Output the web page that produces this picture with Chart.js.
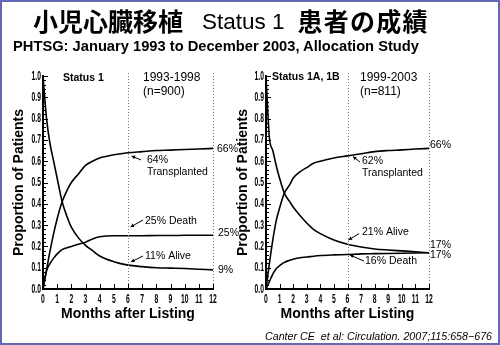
<!DOCTYPE html>
<html><head><meta charset="utf-8">
<script src="https://cdn.jsdelivr.net/npm/chart.js@4.4.0/dist/chart.umd.min.js"></script>
<style>
html,body{margin:0;padding:0;background:#fff;}
#wrap{position:relative;width:500px;height:345px;overflow:hidden;background:#fff;}
canvas{position:absolute;left:0;top:0;}
#frame{position:absolute;left:0;top:0;width:500px;height:345px;box-sizing:border-box;border:2px solid #6466b6;pointer-events:none;}
.t{position:absolute;white-space:nowrap;color:#000;line-height:1;}
#title{left:33px;top:8px;font-family:'Noto Sans CJK JP',sans-serif;font-size:25px;font-weight:bold;}
#title .s{margin-left:19px;font-family:'Liberation Sans',Arial,sans-serif;font-weight:normal;font-size:22.5px;position:relative;top:-2px;}
#title .p{margin-left:13px;letter-spacing:1.2px;}
#sub{left:13px;top:39px;font-family:'Liberation Sans',Arial,sans-serif;font-weight:bold;font-size:14.7px;}
#cite{left:265px;top:331px;font-family:'Liberation Sans',Arial,sans-serif;font-style:italic;font-size:10.7px;}
</style></head>
<body>
<div id="wrap">
<canvas id="c1" width="500" height="345"></canvas>
<canvas id="c2" width="500" height="345"></canvas>
<div class="t" id="title">小児心臓移植<span class="s">Status 1</span><span class="p">患者の成績</span></div>
<div class="t" id="sub">PHTSG: January 1993 to December 2003, Allocation Study</div>
<div class="t" id="cite">Canter CE&nbsp; et al: Circulation. 2007;115:658−676</div>
<div id="frame"></div>
</div>
<script>
// ---- data ----
const months = [0, 0.25, 0.5, 0.75, 1, 1.35, 1.75, 2, 2.5, 3, 3.5, 4, 5, 6, 7, 8, 9, 10, 11, 12];
const xTickLabels = ['0','1','2','3','4','5','6','7','8','9','10','11','12'];
const yTickLabels = ['0.0','0.1','0.2','0.3','0.4','0.5','0.6','0.7','0.8','0.9','1.0'];

// Left panel: 1993-1998 (n=900)
const leftAlive        = [1.0, 0.80, 0.68, 0.60, 0.52, 0.41, 0.33, 0.29, 0.24, 0.205, 0.18, 0.155, 0.128, 0.112, 0.105, 0.10, 0.098, 0.096, 0.093, 0.09];
const leftTransplanted = [0, 0.09, 0.18, 0.26, 0.33, 0.41, 0.47, 0.50, 0.54, 0.58, 0.60, 0.615, 0.63, 0.64, 0.645, 0.65, 0.652, 0.655, 0.657, 0.66];
const leftDeath        = [0, 0.085, 0.12, 0.145, 0.165, 0.185, 0.195, 0.20, 0.21, 0.22, 0.235, 0.245, 0.25, 0.25, 0.25, 0.251, 0.251, 0.252, 0.252, 0.252];

// Right panel: 1999-2003 (n=811)
const rightAlive        = [1.0, 0.71, 0.65, 0.58, 0.52, 0.45, 0.41, 0.385, 0.345, 0.31, 0.28, 0.26, 0.23, 0.21, 0.197, 0.188, 0.183, 0.179, 0.175, 0.17];
const rightTransplanted = [0, 0.12, 0.23, 0.32, 0.38, 0.45, 0.49, 0.52, 0.55, 0.57, 0.59, 0.60, 0.615, 0.625, 0.635, 0.645, 0.65, 0.653, 0.657, 0.66];
const rightDeath        = [0, 0.035, 0.07, 0.095, 0.11, 0.125, 0.135, 0.14, 0.147, 0.15, 0.154, 0.157, 0.16, 0.162, 0.165, 0.166, 0.167, 0.168, 0.169, 0.17];

// ---- annotations (data units) ----
const leftNotes = [
  {text:'Status 1', x:1.41, y:0.99, bold:true},
  {text:'1993-1998', x:7.06, y:0.993, size:12},
  {text:'(n=900)', x:7.06, y:0.925, size:12},
  {text:'66%', x:12.28, y:0.657},
  {text:'64%', x:7.34, y:0.606},
  {text:'Transplanted', x:7.34, y:0.549},
  {text:'25% Death', x:7.2, y:0.319},
  {text:'25%', x:12.35, y:0.263},
  {text:'11% Alive', x:7.2, y:0.155},
  {text:'9%', x:12.35, y:0.089}
];
const leftArrows = [
  {from:[6.92,0.606], to:[6.25,0.624]},
  {from:[7.06,0.324], to:[6.18,0.291]},
  {from:[7.06,0.155], to:[6.21,0.127]}
];
const rightNotes = [
  {text:'Status 1A, 1B', x:0.44, y:0.993, bold:true},
  {text:'1999-2003', x:6.92, y:0.993, size:12},
  {text:'(n=811)', x:6.92, y:0.925, size:12},
  {text:'66%', x:12.07, y:0.676},
  {text:'62%', x:7.07, y:0.601},
  {text:'Transplanted', x:7.07, y:0.545},
  {text:'21% Alive', x:7.07, y:0.268},
  {text:'16% Death', x:7.29, y:0.131},
  {text:'17%', x:12.07, y:0.207},
  {text:'17%', x:12.07, y:0.160}
];
const rightArrows = [
  {from:[6.92,0.596], to:[6.4,0.622]},
  {from:[6.85,0.26], to:[6.07,0.23]},
  {from:[7.21,0.131], to:[6.18,0.16]}
];
const vLines = [6, 12];

Chart.defaults.font.family = "'Liberation Sans', Arial, sans-serif";
Chart.defaults.color = '#000';

const tickFontCss = "bold 13px 'Liberation Sans', Arial, sans-serif";
const squeeze = 0.52;

function condensedText(ctx, text, px, py, align){
  ctx.save();
  ctx.translate(px, py);
  ctx.scale(squeeze, 1);
  ctx.textAlign = align;
  ctx.fillText(text, 0, 0);
  ctx.restore();
}

const decor = {
  id:'decor',
  afterDatasetsDraw(chart, args, opts){
    const {ctx, chartArea:a, scales:{x, y}} = chart;
    ctx.save();
    ctx.strokeStyle = '#777'; ctx.lineWidth = 1; ctx.setLineDash([1,2]);
    for (const m of vLines){
      const px = Math.round(x.getPixelForValue(m)) + 0.5;
      ctx.beginPath(); ctx.moveTo(px, a.top - 3); ctx.lineTo(px, a.bottom); ctx.stroke();
    }
    ctx.setLineDash([]);
    ctx.strokeStyle = '#000'; ctx.lineWidth = 1;
    for (let i = 0; i <= 50; i++){
      const py = Math.round(y.getPixelForValue(i/50)) + 0.5;
      const len = i % 5 === 0 ? 5 : 3;
      ctx.beginPath(); ctx.moveTo(a.left, py); ctx.lineTo(a.left + len, py); ctx.stroke();
    }
    for (let m = 0; m <= 12; m++){
      const px = Math.round(x.getPixelForValue(m)) + 0.5;
      ctx.beginPath(); ctx.moveTo(px, a.bottom); ctx.lineTo(px, a.bottom - 5); ctx.stroke();
    }
    // condensed tick labels (from the scales' own ticks)
    ctx.fillStyle = '#000'; ctx.font = tickFontCss;
    ctx.textBaseline = 'top';
    x.ticks.forEach((t, i) => condensedText(ctx, xTickLabels[i], x.getPixelForTick(i), a.bottom + 4, 'center'));
    ctx.textBaseline = 'middle';
    y.ticks.forEach((t, i) => condensedText(ctx, yTickLabels[i], a.left - 2, y.getPixelForTick(i), 'right'));

    ctx.textBaseline = 'middle'; ctx.textAlign = 'left';
    for (const n of opts.notes){
      ctx.font = (n.bold ? 'bold ' : '') + (n.size || 10.5) + "px 'Liberation Sans', Arial, sans-serif";
      ctx.fillText(n.text, x.getPixelForValue(n.x), y.getPixelForValue(n.y));
    }
    for (const ar of opts.arrows){
      const x1 = x.getPixelForValue(ar.from[0]), y1 = y.getPixelForValue(ar.from[1]);
      const x2 = x.getPixelForValue(ar.to[0]), y2 = y.getPixelForValue(ar.to[1]);
      ctx.beginPath(); ctx.moveTo(x1, y1); ctx.lineTo(x2, y2); ctx.stroke();
      const ang = Math.atan2(y2 - y1, x2 - x1), h = 4;
      ctx.beginPath();
      ctx.moveTo(x2, y2);
      ctx.lineTo(x2 - h*Math.cos(ang - 0.5), y2 - h*Math.sin(ang - 0.5));
      ctx.lineTo(x2 - h*Math.cos(ang + 0.5), y2 - h*Math.sin(ang + 0.5));
      ctx.closePath(); ctx.fill();
    }
    ctx.restore();
  }
};

function ds(vals){
  return {data: months.map((m, i) => ({x:m, y:vals[i]})), borderColor:'#000', borderWidth:1.6,
          pointRadius:0, fill:false, cubicInterpolationMode:'monotone', clip:4};
}

function build(id, series, notes, arrows, pad, yWidth, yTitlePad){
  return new Chart(document.getElementById(id), {
    type:'line',
    data:{datasets: series.map(ds)},
    options:{
      responsive:false, animation:false, devicePixelRatio:1,
      layout:{padding:pad},
      plugins:{legend:{display:false}, tooltip:{enabled:false}, decor:{notes, arrows}},
      scales:{
        x:{type:'linear', min:0, max:12,
           grid:{display:false, drawTicks:false},
           border:{display:true, color:'#000', width:2},
           ticks:{display:false, stepSize:1, autoSkip:false, callback:(v, i) => xTickLabels[i]},
           title:{display:true, text:'Months after Listing', color:'#000',
                  font:{size:14, weight:'bold'}, padding:{top:0, bottom:6}},
           afterFit(s){ s.height = 40; }},
        y:{type:'linear', min:0, max:1,
           grid:{display:false, drawTicks:false},
           border:{display:true, color:'#000', width:2},
           ticks:{display:false, stepSize:0.1, autoSkip:false, callback:(v, i) => yTickLabels[i]},
           title:{display:true, text:'Proportion of Patients', color:'#000',
                  font:{size:14, weight:'bold'}, padding:{top:yTitlePad, bottom:0}},
           afterFit(s){ s.width = yWidth; }}
      }
    },
    plugins:[decor]
  });
}

build('c1', [leftAlive, leftTransplanted, leftDeath], leftNotes, leftArrows,
      {left:0, top:76, right:287, bottom:16}, 43, 11);
build('c2', [rightAlive, rightTransplanted, rightDeath], rightNotes, rightArrows,
      {left:228, top:76, right:71, bottom:16}, 38, 7);
</script>
</body></html>
